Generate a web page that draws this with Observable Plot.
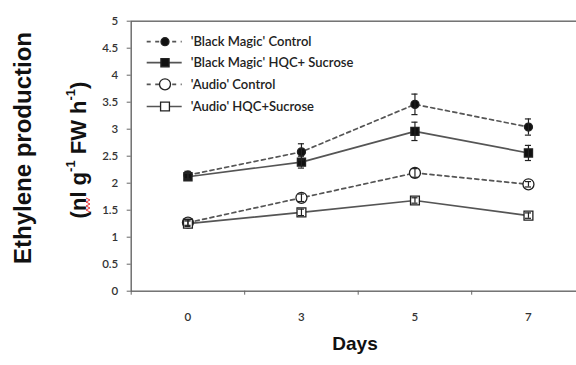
<!DOCTYPE html>
<html>
<head>
<meta charset="utf-8">
<script src="https://cdn.jsdelivr.net/npm/d3@7"></script>
<script src="https://cdn.jsdelivr.net/npm/@observablehq/plot@0.6"></script>
<style>
  html, body { margin: 0; padding: 0; background: #fff; overflow: hidden; }
  #chart svg { display: block; }
</style>
</head>
<body>
<div id="chart"></div>
<script>
// ---- data ----
const days = ["0", "3", "5", "7"];
const seriesNames = ["'Black Magic' Control", "'Black Magic' HQC+ Sucrose", "'Audio' Control", "'Audio' HQC+Sucrose"];
const bmControl    = [2.15, 2.58, 3.46, 3.04];
const bmControlErr = [0.07, 0.15, 0.19, 0.15];
const bmHqc        = [2.12, 2.39, 2.96, 2.56];
const bmHqcErr     = [0.06, 0.11, 0.17, 0.14];
const auControl    = [1.27, 1.73, 2.19, 1.98];
const auControlErr = [0.05, 0.07, 0.08, 0.05];
const auHqc        = [1.25, 1.46, 1.68, 1.40];
const auHqcErr     = [0.05, 0.06, 0.05, 0.05];
const yTicks = [0, 0.5, 1, 1.5, 2, 2.5, 3, 3.5, 4, 4.5, 5];

// ---- styles per series ----
const styles = [
  {values: bmControl, errs: bmControlErr, dash: "4,3.5", symbol: "circle", r: 4,   fill: "#111"},
  {values: bmHqc,     errs: bmHqcErr,     dash: null,    symbol: "square", r: 4.6, fill: "#111"},
  {values: auControl, errs: auControlErr, dash: "4,3.5", symbol: "circle", r: 5.5, fill: "#fff"},
  {values: auHqc,     errs: auHqcErr,     dash: null,    symbol: "square", r: 5,   fill: "#fff"}
];
const rows = [];
styles.forEach((s, k) => s.values.forEach((v, i) => rows.push({series: seriesNames[k], k, i, v, e: s.errs[i]})));

const lineStroke = "#555";
const marks = [
  Plot.frame({stroke: "#666", strokeWidth: 1.4}),
  Plot.axisY({ticks: yTicks, tickSize: 4, tickPadding: 9, tickFormat: d => String(d), label: null, stroke: "#666"}),
  Plot.axisX({ticks: [0, 1, 2, 3], tickSize: 0, tickPadding: 22, tickFormat: i => days[i], label: null}),
  Plot.axisX({ticks: [-0.5, 0.5, 1.5, 2.5], tickSize: 4, tickFormat: () => "", label: null, stroke: "#666"})
];
styles.forEach((s, k) => {
  const d = rows.filter(r => r.k === k);
  marks.push(Plot.line(d, {x: "i", y: "v", stroke: lineStroke, strokeWidth: 1.7, strokeDasharray: s.dash || undefined}));
});
styles.forEach((s, k) => {
  const d = rows.filter(r => r.k === k);
  marks.push(Plot.dot(d, {x: "i", y: "v", symbol: s.symbol, r: s.r, fill: s.fill, stroke: "#222", strokeWidth: 1.3}));
});
styles.forEach((s, k) => {
  const d = rows.filter(r => r.k === k);
  marks.push(Plot.ruleX(d, {x: "i", y1: r => r.v - r.e, y2: r => r.v + r.e, stroke: "#222", strokeWidth: 1.2}));
  marks.push(Plot.ruleY(d, {y: r => r.v + r.e, x1: r => r.i - 0.027, x2: r => r.i + 0.027, stroke: "#222", strokeWidth: 1.2}));
  marks.push(Plot.ruleY(d, {y: r => r.v - r.e, x1: r => r.i - 0.027, x2: r => r.i + 0.027, stroke: "#222", strokeWidth: 1.2}));
});

const plot = Plot.plot({
  width: 576,
  height: 365,
  marginTop: 20.7,
  marginBottom: 74.3,
  marginLeft: 130.7,
  marginRight: -8.7,
  x: {type: "linear", domain: [-0.5, 3.5]},
  y: {domain: [0, 5]},
  style: {fontFamily: "Lato, 'Open Sans', sans-serif", fontSize: "11.5px", fontWeight: "600", color: "#333", background: "#fff", overflow: "visible"},
  marks
});
document.getElementById("chart").append(plot);

// ---- titles & legend ----
const svg = d3.select(plot);
svg.append("text")
  .attr("transform", "translate(22.5,148) rotate(-90)")
  .attr("text-anchor", "middle").attr("dominant-baseline", "central")
  .attr("font-family", "'Liberation Sans', Arial, sans-serif").attr("font-weight", "bold")
  .attr("font-size", 24).attr("fill", "#111")
  .text("Ethylene production");

const t2 = svg.append("text")
  .attr("transform", "translate(78,150) rotate(-90)")
  .attr("text-anchor", "middle").attr("dominant-baseline", "central")
  .attr("font-family", "'Liberation Sans', Arial, sans-serif").attr("font-weight", "bold")
  .attr("font-size", 22).attr("fill", "#111");
t2.append("tspan").text("(nl g");
t2.append("tspan").attr("baseline-shift", "super").attr("font-size", 13).text("-1");
t2.append("tspan").text(" FW h");
t2.append("tspan").attr("baseline-shift", "super").attr("font-size", 13).text("-1");
t2.append("tspan").text(")");

// spell-check squiggle under "nl"
svg.append("polyline")
  .attr("points", "86,198 90,200 86,202 90,204 86,206 90,208 86,210 90,212")
  .attr("fill", "none").attr("stroke", "#e33").attr("stroke-width", 1);

svg.append("text")
  .attr("x", 355).attr("y", 350)
  .attr("text-anchor", "middle")
  .attr("font-family", "'Liberation Sans', Arial, sans-serif").attr("font-weight", "bold")
  .attr("font-size", 19).attr("fill", "#111")
  .text("Days");

const legendY = [41.7, 62.7, 84.3, 106.5];
const lg = svg.append("g").attr("text-anchor", "start");
styles.forEach((s, k) => {
  const y = legendY[k];
  lg.append("line").attr("x1", 146.7).attr("x2", 181.7).attr("y1", y).attr("y2", y)
    .attr("stroke", lineStroke).attr("stroke-width", 1.7)
    .attr("stroke-dasharray", s.dash ? "4,4.5" : null);
  const sym = s.symbol === "circle" ? d3.symbolCircle : d3.symbolSquare;
  lg.append("path").attr("d", d3.symbol(sym, Math.PI * s.r * s.r)())
    .attr("transform", `translate(165,${y})`)
    .attr("fill", s.fill).attr("stroke", "#222").attr("stroke-width", 1.3);
  lg.append("text").attr("x", 190.7).attr("y", y).attr("dy", "0.35em")
    .attr("text-anchor", "start")
    .attr("font-family", "Lato, 'Open Sans', sans-serif").attr("font-size", 13).attr("fill", "#222")
    .text(seriesNames[k]);
});
</script>
</body>
</html>
